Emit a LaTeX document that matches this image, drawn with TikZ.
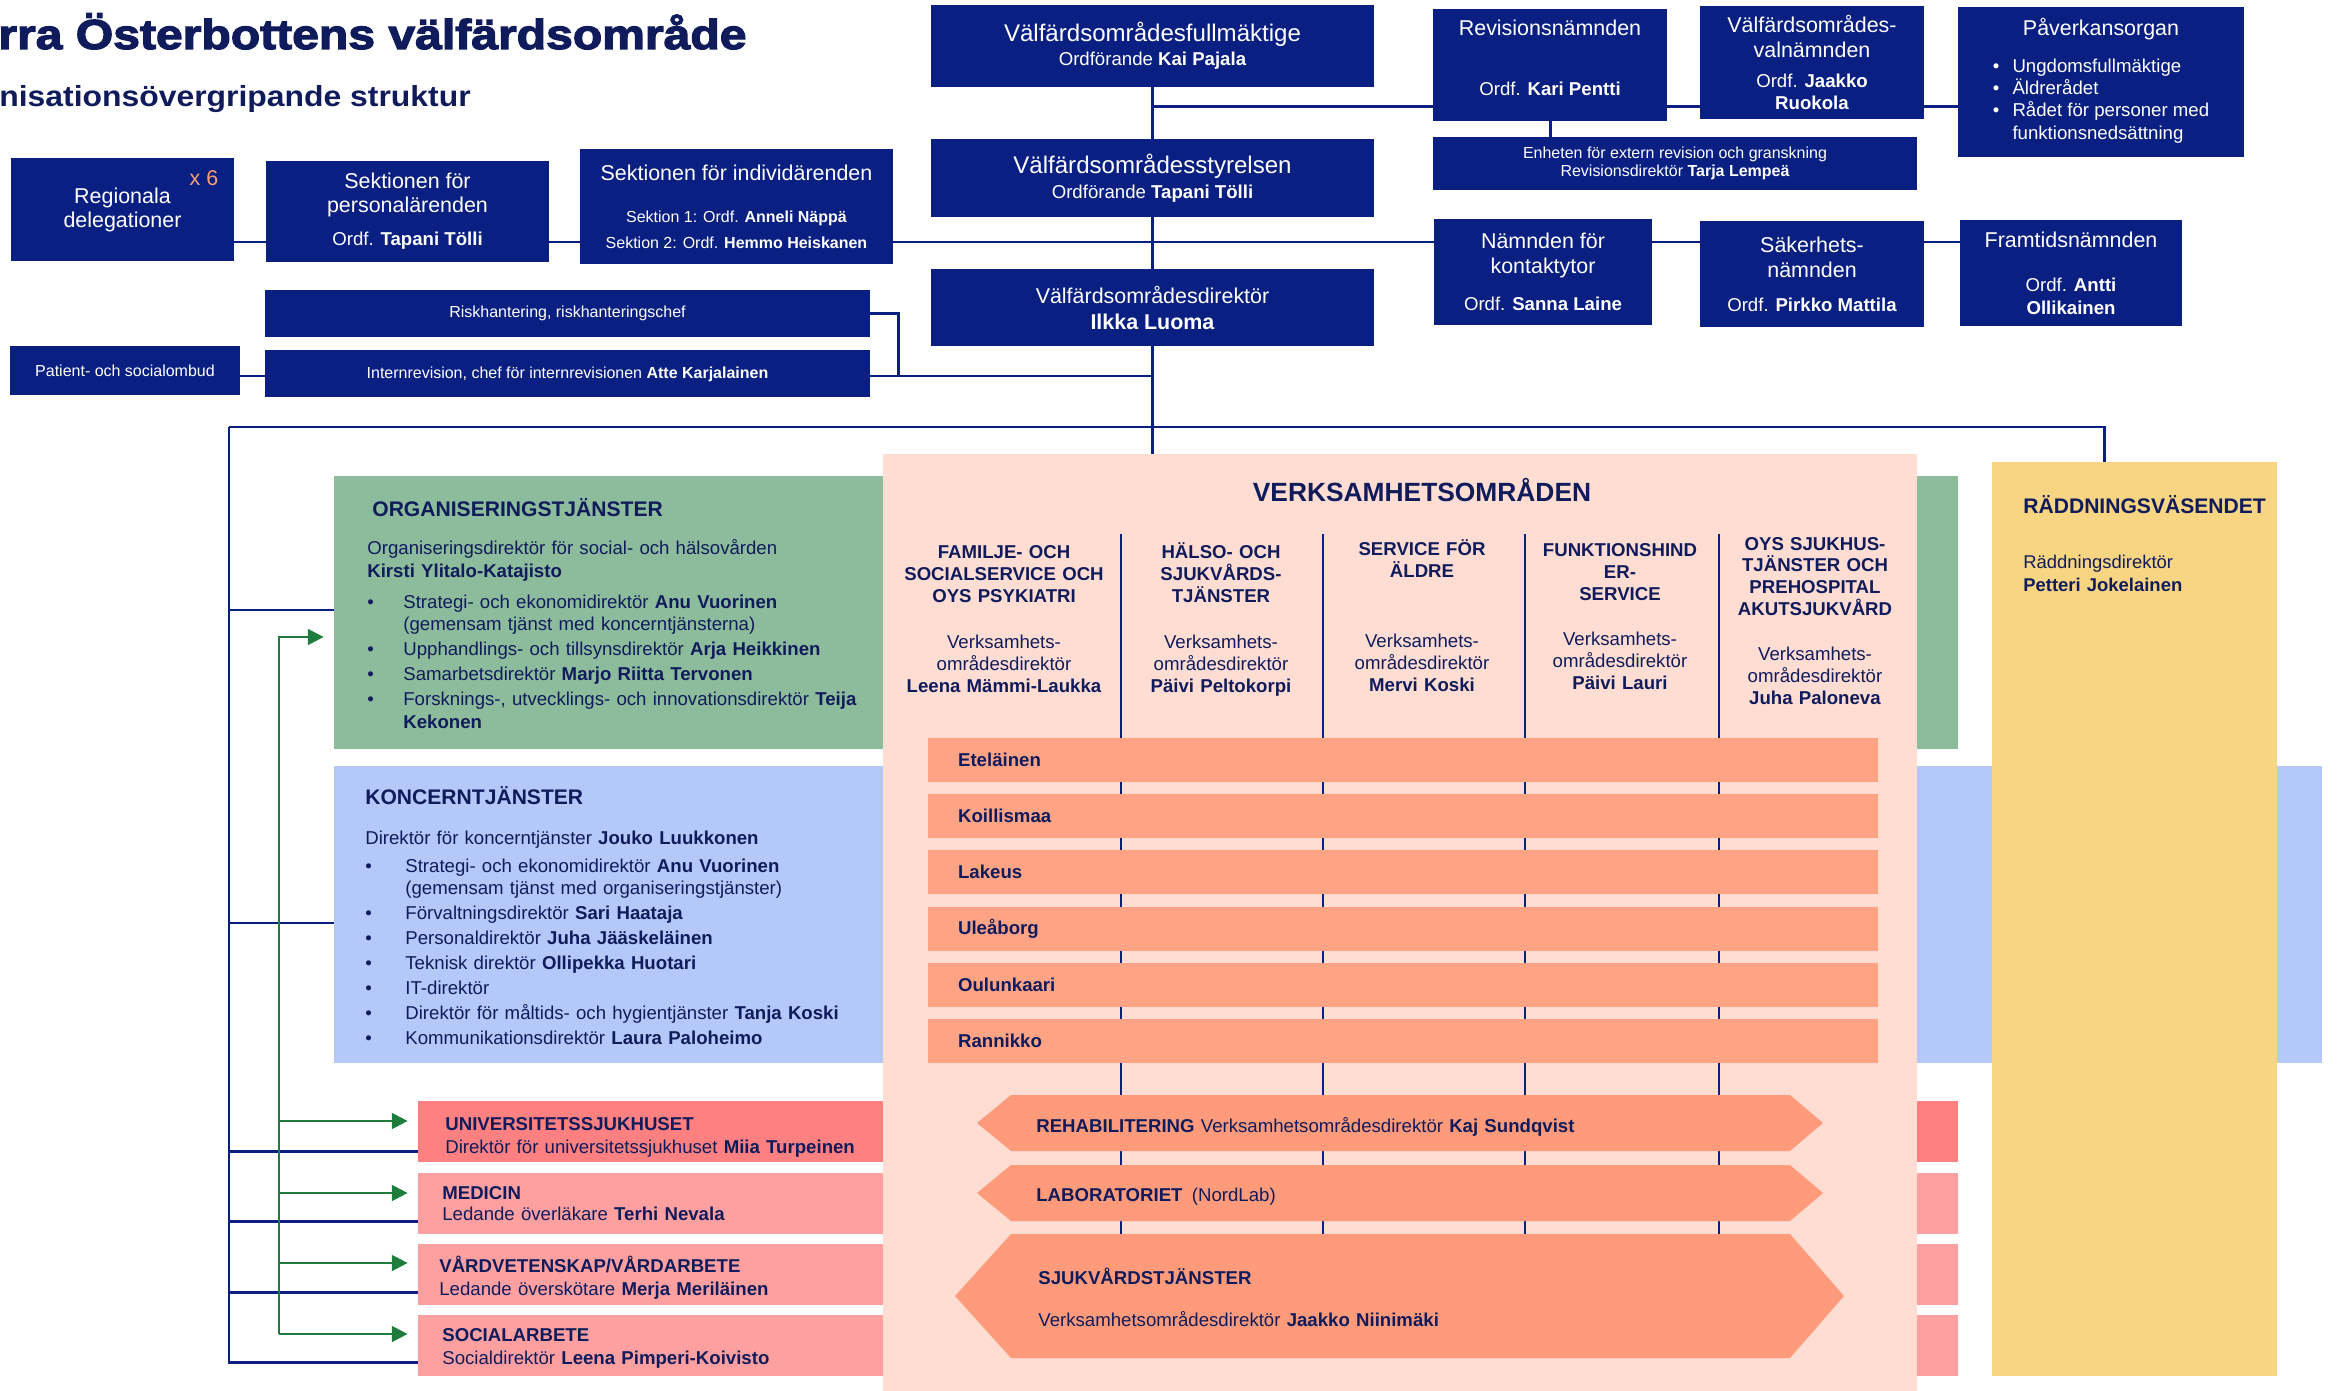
\documentclass[tikz,border=0pt]{standalone}
\usepackage{fontspec}
\setmainfont{Liberation Sans}
\newfontfamily\titlefont[FakeStretch=1.15,BoldFeatures={FakeBold=3}]{Liberation Sans}
\newfontfamily\subfont[FakeStretch=1.1]{Liberation Sans}
\usetikzlibrary{arrows.meta}

\pgfdeclarelayer{bg}
\pgfsetlayers{bg,main}

\definecolor{navy}{RGB}{10,31,130}
\definecolor{ink}{RGB}{16,27,92}
\definecolor{orgcol}{RGB}{140,188,155}
\definecolor{konccol}{RGB}{180,200,250}
\definecolor{verkcol}{RGB}{255,221,210}
\definecolor{barcol}{RGB}{255,163,133}
\definecolor{hexcol}{RGB}{255,155,122}
\definecolor{raddcol}{RGB}{248,213,130}
\definecolor{univcol}{RGB}{255,128,128}
\definecolor{redcol}{RGB}{255,160,160}
\definecolor{arrcol}{RGB}{30,125,60}
\definecolor{sixcol}{RGB}{245,160,120}

\newcommand\fsS{\fontsize{9.1}{10.2}\selectfont}
\newcommand\fsO{\fontsize{10.6}{12.8}\selectfont}
\newcommand\fsM{\fontsize{12.2}{14.2}\selectfont}
\newcommand\fsL{\fontsize{13.7}{15}\selectfont}
\newcommand\blt[1]{\makebox[#1][l]{\textbullet}}

\begin{document}
\begin{tikzpicture}[x=0.02cm, y=-0.02cm,
    wh/.style 2 args={minimum width=#1*0.02cm, minimum height=#2*0.02cm},
    nbox/.style={fill=navy, text=white, inner sep=0pt, align=center},
    panel/.style={inner sep=0pt},
    ln/.style={navy, line width=1.7pt},
    divl/.style={navy, line width=1.2pt},
    gline/.style={arrcol, line width=1.3pt},
    garr/.style={gline, -{Triangle[length=9pt, width=9pt]}, shorten >=0.2cm},
    txt/.style={text=ink, inner sep=0pt, anchor=base west, align=left, text width=#1*0.02cm},
    colhead/.style={text=ink, inner sep=0pt, anchor=base, align=center, text width=#1*0.02cm, font=\fontsize{10.6}{12.5}\selectfont},
    regbar/.style={fill=barcol, text=ink, font=\fsO\bfseries, minimum height=0.88cm, text width=17.8cm, inner xsep=0.6cm, inner ysep=0pt, align=left},
    hexa/.style={fill=hexcol}]
\useasboundingbox (0,0) rectangle (2341,1391);

% title
\node[text=ink, inner sep=0pt, anchor=base west, font=\titlefont\bfseries\fontsize{23.8}{25}\selectfont] (title) at (-2,49) {rra Österbottens välfärdsområde};
\node[text=ink, inner sep=0pt, anchor=base west, font=\subfont\bfseries\fontsize{16.5}{18}\selectfont] (subtitle) at (-1,107) {nisationsövergripande struktur};

% top boxes
\node[nbox, wh={443}{82}, font=\fontsize{10.6}{13.7}\selectfont] (fullm) at (1152.5,46)
  {{\fsL Välfärdsområdesfullmäktige}\\Ordförande \textbf{Kai Pajala}};
\node[nbox, wh={443}{78}, font=\fontsize{10.6}{14.2}\selectfont] (styr) at (1152.5,178)
  {{\fsL Välfärdsområdesstyrelsen}\\Ordförande \textbf{Tapani Tölli}};
\node[nbox, wh={443}{77}, font=\fontsize{12.2}{14.8}\selectfont] (dir) at (1152.5,307.5)
  {Välfärdsområdesdirektör\\\textbf{Ilkka Luoma}};
\node[nbox, wh={234}{112}, font=\fontsize{10.6}{12}\selectfont] (rev) at (1550,65)
  {{\fsM Revisionsnämnden}\\[22.1pt]Ordf. \textbf{Kari Pentti}\\[-4pt]\mbox{}};
\node[nbox, wh={224}{113}, font=\fontsize{12.2}{12.5}\selectfont] (val) at (1812,62.5)
  {Välfärdsområdes-\\[1.7pt]valnämnden\\[5.1pt]{\fsO Ordf. \textbf{Jaakko}}\\{\fsO\textbf{Ruokola}}};
\node[nbox, wh={286}{150}, font=\fontsize{10.6}{12.7}\selectfont] (pav) at (2101,82)
  {{\fsM Påverkansorgan}\\[8.3pt]
   \begin{tabular}[t]{@{}l@{\hspace{7.5pt}}l@{}}
   \textbullet & Ungdomsfullmäktige\\
   \textbullet & Äldrerådet\\
   \textbullet & Rådet för personer med\\
   & funktionsnedsättning
   \end{tabular}};
\node[nbox, wh={484}{53}, font=\fsS] (enh) at (1675,163.5)
  {Enheten för extern revision och granskning\\Revisionsdirektör \textbf{Tarja Lempeä}};
\node[nbox, wh={218}{106}, font=\fontsize{12.2}{14.2}\selectfont] (kont) at (1543,272)
  {Nämnden för\\kontaktytor\\[6.8pt]{\fsO Ordf. \textbf{Sanna Laine}}};
\node[nbox, wh={224}{106}, font=\fontsize{12.2}{14.2}\selectfont] (sak) at (1812,274)
  {Säkerhets-\\nämnden\\[5.1pt]{\fsO Ordf. \textbf{Pirkko Mattila}}};
\node[nbox, wh={222}{106}, font=\fontsize{12.2}{13.1}\selectfont] (fram) at (2071,273)
  {Framtidsnämnden\\[11.9pt]{\fsO Ordf. \textbf{Antti}}\\{\fsO\textbf{Ollikainen}}};

% left boxes
\node[nbox, wh={223}{103}, font=\fontsize{12.2}{13.7}\selectfont] (reg) at (122.5,209.5)
  {Regionala\\delegationer};
\node[text=sixcol, inner sep=0pt, font=\fsM] (six) at (204,178) {x 6};
\node[nbox, wh={283}{101}, font=\fontsize{12.2}{13.7}\selectfont] (pers) at (407.5,211.5)
  {Sektionen för\\personalärenden\\[5.1pt]{\fsO Ordf. \textbf{Tapani Tölli}}};
\node[nbox, wh={313}{115}, font=\fontsize{12.2}{14.8}\selectfont] (ind) at (736.5,206.5)
  {Sektionen för individärenden\\[9.1pt]{\fsS Sektion 1: Ordf. \textbf{Anneli Näppä}}\\{\fsS Sektion 2: Ordf. \textbf{Hemmo Heiskanen}}};
\node[nbox, wh={605}{47}, font=\fsS] (risk) at (567.5,313.5) {Riskhantering, riskhanteringschef};
\node[nbox, wh={605}{47}, font=\fsS] (intr) at (567.5,374)
  {Internrevision, chef för internrevisionen \textbf{Atte Karjalainen}};
\node[nbox, wh={230}{49}, font=\fsS] (pat) at (125,370.5) {Patient- och socialombud};

% panels
\node[panel, fill=orgcol, wh={1624}{273}] (org) at (1146,612.5) {};
\node[panel, fill=konccol, wh={1988}{297}] (konc) at (1328,914.5) {};
\node[panel, fill=univcol, wh={1540}{61}] (univ) at (1188,1131.5) {};
\node[panel, fill=redcol, wh={1540}{61}] (med) at (1188,1203.5) {};
\node[panel, fill=redcol, wh={1540}{61}] (vard) at (1188,1274.5) {};
\node[panel, fill=redcol, wh={1540}{61}] (soc) at (1188,1345.5) {};
\node[panel, fill=verkcol, wh={1034}{937}] (verk) at (1400,922.5) {};
\node[panel, fill=raddcol, wh={285}{914}] (radd) at (2134.5,919) {};

% verksamhetsomraden
\node[text=ink, inner sep=0pt, anchor=base, font=\bfseries\fontsize{15}{16}\selectfont] (verkh) at (1422,501) {VERKSAMHETSOMRÅDEN};
\foreach \x in {1121,1323,1525,1719}
  \draw[divl] (\x,534) -- (\x,1234);
\node[colhead=230] (fam) at (1004,559) {\textbf{FAMILJE- OCH}\\\textbf{SOCIALSERVICE OCH}\\\textbf{OYS PSYKIATRI}\\[13.7pt]Verksamhets-\\områdesdirektör\\\textbf{Leena Mämmi-Laukka}};
\node[colhead=190] (hals) at (1221,559) {\textbf{HÄLSO- OCH}\\\textbf{SJUKVÅRDS-}\\\textbf{TJÄNSTER}\\[13.7pt]Verksamhets-\\områdesdirektör\\\textbf{Päivi Peltokorpi}};
\node[colhead=190] (aldre) at (1422,556) {\textbf{SERVICE FÖR}\\\textbf{ÄLDRE}\\[27.3pt]Verksamhets-\\områdesdirektör\\\textbf{Mervi Koski}};
\node[colhead=190] (funk) at (1620,557) {\textbf{FUNKTIONSHIND}\\\textbf{ER-}\\\textbf{SERVICE}\\[13.1pt]Verksamhets-\\områdesdirektör\\\textbf{Päivi Lauri}};
\node[colhead=190] (oys) at (1815,550) {\textbf{OYS SJUKHUS-}\\\textbf{TJÄNSTER OCH}\\\textbf{PREHOSPITAL}\\\textbf{AKUTSJUKVÅRD}\\[13.1pt]Verksamhets-\\områdesdirektör\\\textbf{Juha Paloneva}};

\foreach \n/\t/\y in {etel/Eteläinen/760, koil/Koillismaa/816, lake/Lakeus/872, ulea/Uleåborg/929, oulu/Oulunkaari/985, rann/Rannikko/1041}
  \node[regbar] (\n) at (1403,\y) {\t};

\fill[hexa] (977,1123) -- (1011,1095) -- (1790,1095) -- (1823,1123) -- (1790,1151) -- (1011,1151) -- cycle;
\fill[hexa] (977,1193) -- (1011,1165) -- (1790,1165) -- (1823,1193) -- (1790,1221) -- (1011,1221) -- cycle;
\fill[hexa] (955,1296) -- (1011,1234) -- (1790,1234) -- (1844,1296) -- (1790,1358) -- (1011,1358) -- cycle;
\node[txt=800, font=\fsO] (rehab) at (1036,1132.5) {\textbf{REHABILITERING} Verksamhetsområdesdirektör \textbf{Kaj Sundqvist}};
\node[txt=800, font=\fsO] (lab) at (1036,1201.5) {\textbf{LABORATORIET}\enspace(NordLab)};
\node[txt=800, font=\fontsize{10.6}{23.9}\selectfont] (sjuk) at (1038,1284) {\textbf{SJUKVÅRDSTJÄNSTER}\\Verksamhetsområdesdirektör \textbf{Jaakko Niinimäki}};

% organiseringstjanster
\node[txt=600, font=\bfseries\fontsize{12}{14}\selectfont] (orgh) at (372,517) {ORGANISERINGSTJÄNSTER};
\node[txt=620, font=\fontsize{10.6}{12.8}\selectfont] (orgt) at (367,555)
 {Organiseringsdirektör för social- och hälsovården\\
  \textbf{Kirsti Ylitalo-Katajisto}\\[4.8pt]
  \blt{20.5pt}Strategi- och ekonomidirektör \textbf{Anu Vuorinen}\\
  \hspace*{20.5pt}(gemensam tjänst med koncerntjänsterna)\\[1.4pt]
  \blt{20.5pt}Upphandlings- och tillsynsdirektör \textbf{Arja Heikkinen}\\[1.4pt]
  \blt{20.5pt}Samarbetsdirektör \textbf{Marjo Riitta Tervonen}\\[1.4pt]
  \blt{20.5pt}Forsknings-, utvecklings- och innovationsdirektör \textbf{Teija}\\
  \hspace*{20.5pt}\textbf{Kekonen}};

% koncerntjanster
\node[txt=600, font=\bfseries\fontsize{12}{14}\selectfont] (konch) at (365,804.5) {KONCERNTJÄNSTER};
\node[txt=620, font=\fontsize{10.6}{14.2}\selectfont] (konct) at (365,844.5)
 {Direktör för koncerntjänster \textbf{Jouko Luukkonen}\\[1.7pt]
  \blt{22.8pt}Strategi- och ekonomidirektör \textbf{Anu Vuorinen}\\[-1.7pt]
  \hspace*{22.8pt}(gemensam tjänst med organiseringstjänster)\\
  \blt{22.8pt}Förvaltningsdirektör \textbf{Sari Haataja}\\
  \blt{22.8pt}Personaldirektör \textbf{Juha Jääskeläinen}\\
  \blt{22.8pt}Teknisk direktör \textbf{Ollipekka Huotari}\\
  \blt{22.8pt}IT-direktör\\
  \blt{22.8pt}Direktör för måltids- och hygientjänster \textbf{Tanja Koski}\\
  \blt{22.8pt}Kommunikationsdirektör \textbf{Laura Paloheimo}};

% red boxes
\node[txt=500, font=\fontsize{10.6}{13.1}\selectfont] (univt) at (445,1130)
  {\textbf{UNIVERSITETSSJUKHUSET}\\Direktör för universitetssjukhuset \textbf{Miia Turpeinen}};
\node[txt=500, font=\fontsize{10.6}{12.5}\selectfont] (medt) at (442,1199)
  {\textbf{MEDICIN}\\Ledande överläkare \textbf{Terhi Nevala}};
\node[txt=500, font=\fontsize{10.6}{13.1}\selectfont] (vardt) at (439,1272)
  {\textbf{VÅRDVETENSKAP/VÅRDARBETE}\\Ledande överskötare \textbf{Merja Meriläinen}};
\node[txt=500, font=\fontsize{10.6}{13.1}\selectfont] (soct) at (442,1341)
  {\textbf{SOCIALARBETE}\\Socialdirektör \textbf{Leena Pimperi-Koivisto}};

% raddningsvasendet
\node[txt=250, font=\bfseries\fontsize{12}{14}\selectfont] (raddh) at (2023,513.5) {RÄDDNINGSVÄSENDET};
\node[txt=250, font=\fontsize{10.5}{13.1}\selectfont] (raddt) at (2023,568.5) {Räddningsdirektör\\\textbf{Petteri Jokelainen}};

% connectors
\begin{pgfonlayer}{bg}
  \draw[ln] (fullm.south) -- (styr.north) (styr.south) -- (dir.north);
  \draw[ln] (dir.south) -- (dir.south |- verk.north);
  \draw[ln] (fullm.south |- 0,107) -- (pav.west |- 0,107);
  \draw[ln] (rev.south) -- (rev.south |- enh.north);
  \draw[ln] (reg.east |- 0,242) -- (fram.west |- 0,242);
  \draw[ln] (risk.east) -| (898,376);
  \draw[ln] (pat.east |- 0,376) -- (dir.south |- 0,376);
  \draw[ln] (229,427) coordinate (hl) -- (2104,427) coordinate (hr) -- (hr |- radd.north);
  \draw[ln] (hl) -- (229,1362) -- (soc.west |- 0,1362);
  \foreach \n/\y in {org/610, konc/923, univ/1151, med/1221, vard/1292}
    \draw[ln] (229,\y) -- (\n.west |- 0,\y);
\end{pgfonlayer}
\draw[garr] (279,1334) -- (279,637) -- (org.west |- 0,637);
\foreach \n/\y in {univ/1121, med/1193, vard/1263, soc/1334}
  \draw[garr] (279,\y) -- (\n.west |- 0,\y);
\end{tikzpicture}
\end{document}
